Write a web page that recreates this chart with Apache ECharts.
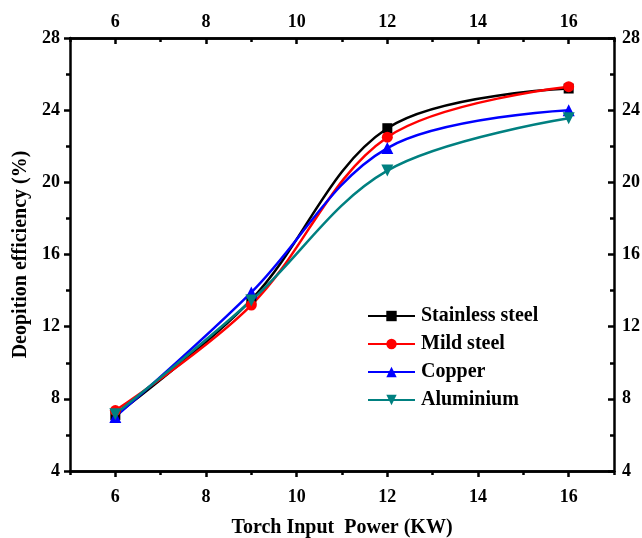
<!DOCTYPE html>
<html lang="en">

<head>
  <meta charset="UTF-8">
  <title>Deposition efficiency</title>
  <style>
    html, body { margin: 0; padding: 0; background: #fff; }
    #chart { width: 642px; height: 538px; }
  </style>
</head>

<body>
  <div id="chart"></div>
  <script src="https://cdn.jsdelivr.net/npm/echarts@6/dist/echarts.min.js"></script>
  <script>
    // data
    var power = [6, 9, 12, 16];
    var stainless = [7.1, 13.5, 23.0, 25.2];
    var mild = [7.35, 13.2, 22.5, 25.3];
    var copper = [7.0, 13.9, 21.9, 24.0];
    var aluminium = [7.15, 13.45, 20.65, 23.55];
    var xMajor = [6, 8, 10, 12, 14, 16];
    var xMinor = [5, 7, 9, 11, 13, 15, 17];

    var font = 'Liberation Serif';
    var myChart = echarts.init(document.getElementById('chart'));

    function pairs(ys) {
      return power.map(function (x, i) { return [x, ys[i]]; });
    }

    function line(name, ys, color, symbol, size, rotate) {
      return {
        name: name,
        type: 'line',
        data: pairs(ys),
        smooth: 0.35,
        symbol: symbol,
        symbolSize: size,
        symbolRotate: rotate || 0,
        itemStyle: { color: color },
        lineStyle: { color: color, width: 2.5 },
        z: 3
      };
    }

    var axisLine = { show: true, onZero: false, lineStyle: { color: '#000', width: 2.5 } };
    var label = { color: '#000', fontFamily: font, fontWeight: 'bold', fontSize: 18 };

    function xAx(pos, values, len, inside, showLabel) {
      return {
        type: 'value', position: pos, min: 5, max: 17,
        axisLine: axisLine,
        axisTick: { show: true, customValues: values, length: len, inside: inside, lineStyle: { color: '#000', width: 2.5 } },
        axisLabel: Object.assign({ show: showLabel, customValues: values, margin: pos === 'bottom' ? 17 : 7 }, label),
        splitLine: { show: false }
      };
    }

    function yAx(pos, inside) {
      return {
        type: 'value', position: pos, min: 4, max: 28, interval: 4,
        axisLine: axisLine,
        axisTick: { show: true, length: 6, inside: inside, lineStyle: { color: '#000', width: 2.5 } },
        minorTick: { show: true, splitNumber: 2, length: 4, lineStyle: { color: '#000', width: 2.5 } },
        axisLabel: Object.assign({ margin: inside ? 8 : 10 }, label),
        splitLine: { show: false }
      };
    }

    var xMain = xAx('bottom', xMajor, 6, false, true);
    xMain.name = 'Torch Input  Power (KW)';
    xMain.nameLocation = 'middle';
    xMain.nameGap = 47;
    xMain.nameTextStyle = { color: '#000', fontFamily: font, fontWeight: 'bold', fontSize: 20 };

    var yMain = yAx('left', false);
    yMain.name = 'Deopition efficiency (%)';
    yMain.nameLocation = 'middle';
    yMain.nameGap = 37;
    yMain.nameTextStyle = { color: '#000', fontFamily: font, fontWeight: 'bold', fontSize: 20 };

    var option = {
      backgroundColor: '#fff',
      animation: false,
      grid: { left: 70, right: 28, top: 38, bottom: 67, outerBoundsMode: 'none' },
      xAxis: [
        xMain,
        xAx('bottom', xMinor, 4, false, false),
        xAx('top', xMajor, 6, true, true),
        xAx('top', xMinor, 4, true, false)
      ],
      yAxis: [yMain, yAx('right', true)],
      legend: {
        orient: 'vertical',
        left: 362,
        top: 301,
        itemWidth: 47,
        itemHeight: 13,
        itemGap: 8,
        textStyle: { color: '#000', fontFamily: font, fontWeight: 'bold', fontSize: 20, padding: [0, 0, 0, 1] },
        data: ['Stainless steel', 'Mild steel', 'Copper', 'Aluminium']
      },
      series: [
        line('Stainless steel', stainless, '#000000', 'rect', 10),
        line('Mild steel', mild, '#ff0000', 'circle', 11),
        line('Copper', copper, '#0000ff', 'triangle', 12),
        line('Aluminium', aluminium, '#008080', 'triangle', 12, 180)
      ]
    };

    myChart.setOption(option);
  </script>
</body>

</html>
